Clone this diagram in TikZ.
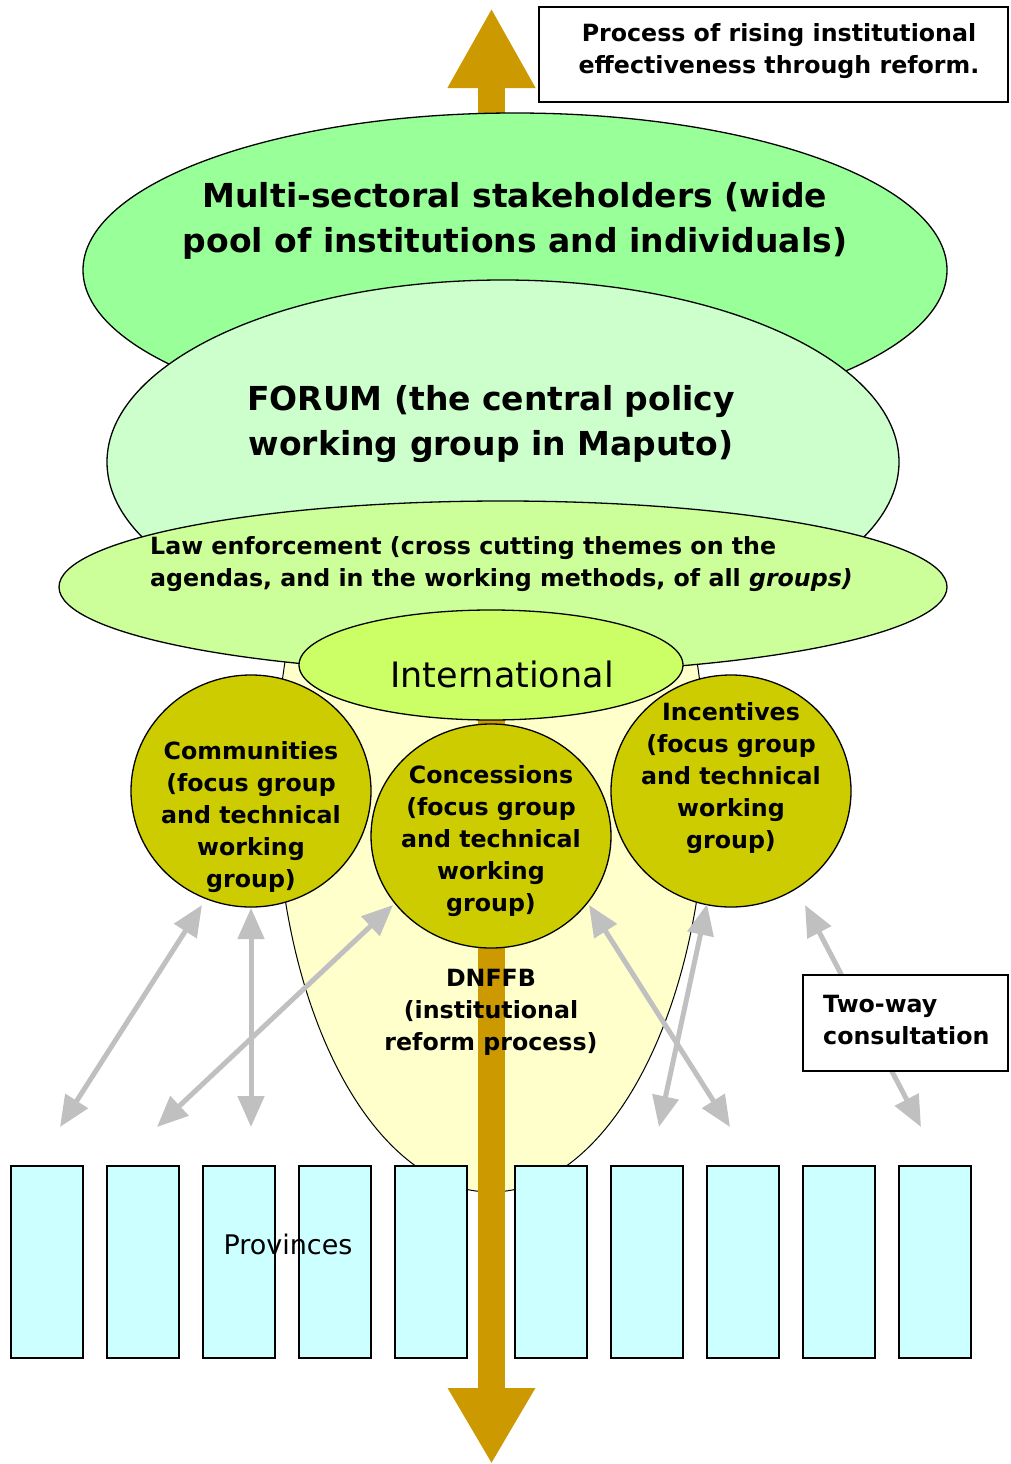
\documentclass[tikz,border=0pt]{standalone}
\usepackage{fontspec}
\setmainfont{DejaVu Sans}
\usetikzlibrary{shapes.geometric,arrows.meta}
\definecolor{orng}{HTML}{CC9900}
\definecolor{stakec}{HTML}{99FF99}
\definecolor{forumc}{HTML}{CCFFCC}
\definecolor{lawc}{HTML}{CCFF99}
\definecolor{intc}{HTML}{CCFF66}
\definecolor{groupc}{HTML}{CCCC00}
\definecolor{dnffbc}{HTML}{FFFFCC}
\definecolor{provc}{HTML}{CCFFFF}
\definecolor{consc}{HTML}{C0C0C0}
\begin{document}
\begin{tikzpicture}[x=1pt,y=-1pt,
  ell/.style={ellipse, draw=black, line width=1.3pt, inner sep=0pt},
  bigtxt/.style={font=\bfseries\fontsize{33}{45}\selectfont, align=center, inner sep=0pt},
  midtxt/.style={font=\bfseries\fontsize{23.7}{32}\selectfont, align=center, inner sep=0pt},
  provbox/.style={draw=black, line width=1.5pt, fill=provc, minimum width=72pt, minimum height=192pt, inner sep=0pt},
  infobox/.style={draw=black, line width=1.3pt, fill=white, inner sep=0pt},
  consult/.style={draw=consc, line width=5pt, {Triangle[length=31pt,width=26pt]}-{Triangle[length=31pt,width=26pt]}},
  reform/.style={draw=orng, line width=27pt, {Triangle[length=80pt,width=82pt]}-{Triangle[length=76pt,width=82pt]}}
]
\useasboundingbox (0,0) rectangle (1010,1464);

% DNFFB region
\node[ell, fill=dnffbc, line width=1pt, minimum width=430pt, minimum height=824pt] (dnffb) at (491,780) {};

% reform arrow
\coordinate (rtop) at (491.5,8);
\coordinate (rbot) at (491.5,1464);
\draw[reform] (rtop) -- (rbot);

% stakeholders, forum, law enforcement, international
\node[ell, fill=stakec, minimum width=864pt, minimum height=314pt] (stake) at (515,270) {};
\node[ell, fill=forumc, minimum width=792pt, minimum height=364pt] (forum) at (503,462) {};
\node[ell, fill=lawc, minimum width=888pt, minimum height=172pt] (law) at (503,587) {};
\node[ell, fill=intc, minimum width=384pt, minimum height=110pt] (intl) at (491,665) {};

% focus groups
\node[ell, fill=groupc, minimum width=240pt, minimum height=232pt] (comm) at (251,791) {};
\node[ell, fill=groupc, minimum width=240pt, minimum height=232pt] (incent) at (731,791) {};
\node[ell, fill=groupc, minimum width=240pt, minimum height=224pt] (conc) at (491,836) {};

% texts
\node[bigtxt] (staket) at (515,221) {Multi-sectoral stakeholders (wide\\pool of institutions and individuals)};
\node[bigtxt] (forumt) at (491,424) {FORUM (the central policy\\working group in Maputo)};
\node[midtxt, align=left, anchor=west] (lawt) at (150,564) {Law enforcement (cross cutting themes on the\\agendas, and in the working methods, of all \textit{groups)}};
\node[inner sep=0pt, font=\fontsize{35}{42}\selectfont] (intlt) at (502,674) {International};
\node[midtxt] (commt) at (251,817) {Communities\\(focus group\\and technical\\working\\group)};
\node[midtxt] (conct) at (491,841) {Concessions\\(focus group\\and technical\\working\\group)};
\node[midtxt] (incentt) at (731,778) {Incentives\\(focus group\\and technical\\working\\group)};
\node[midtxt] (dnffbt) at (491,1012) {DNFFB\\(institutional\\reform process)};

% consultation arrows
\coordinate (a1) at (202,905); \coordinate (a2) at (60,1127);
\coordinate (b1) at (251,908); \coordinate (b2) at (251,1127);
\coordinate (c1) at (393,905); \coordinate (c2) at (157,1127);
\coordinate (d1) at (589,905); \coordinate (d2) at (730,1127);
\coordinate (e1) at (707,904); \coordinate (e2) at (659,1127);
\coordinate (f1) at (805,905); \coordinate (f2) at (921,1127);
\draw[consult] (a1) -- (a2);
\draw[consult] (b1) -- (b2);
\draw[consult] (c1) -- (c2);
\draw[consult] (d1) -- (d2);
\draw[consult] (e1) -- (e2);
\draw[consult] (f1) -- (f2);

% provinces
\foreach \i/\x in {1/47,2/143,3/239,4/335,5/431,6/551,7/647,8/743,9/839,10/935}{
  \node[provbox] (p\i) at (\x,1262) {};
}
\node[inner sep=0pt, font=\fontsize{27}{32}\selectfont] (provt) at (288,1244) {Provinces};

% info boxes
\node[infobox, minimum width=205pt, minimum height=96pt] (twoway) at (905.5,1023) {};
\node[midtxt, align=left, anchor=west] (twowayt) at (823,1020) {Two-way\\consultation};
\node[infobox, minimum width=469pt, minimum height=95pt] (process) at (773.5,54.5) {};
\node[midtxt] (processt) at (779,51) {Process of rising institutional\\effectiveness through reform.};
\end{tikzpicture}
\end{document}
